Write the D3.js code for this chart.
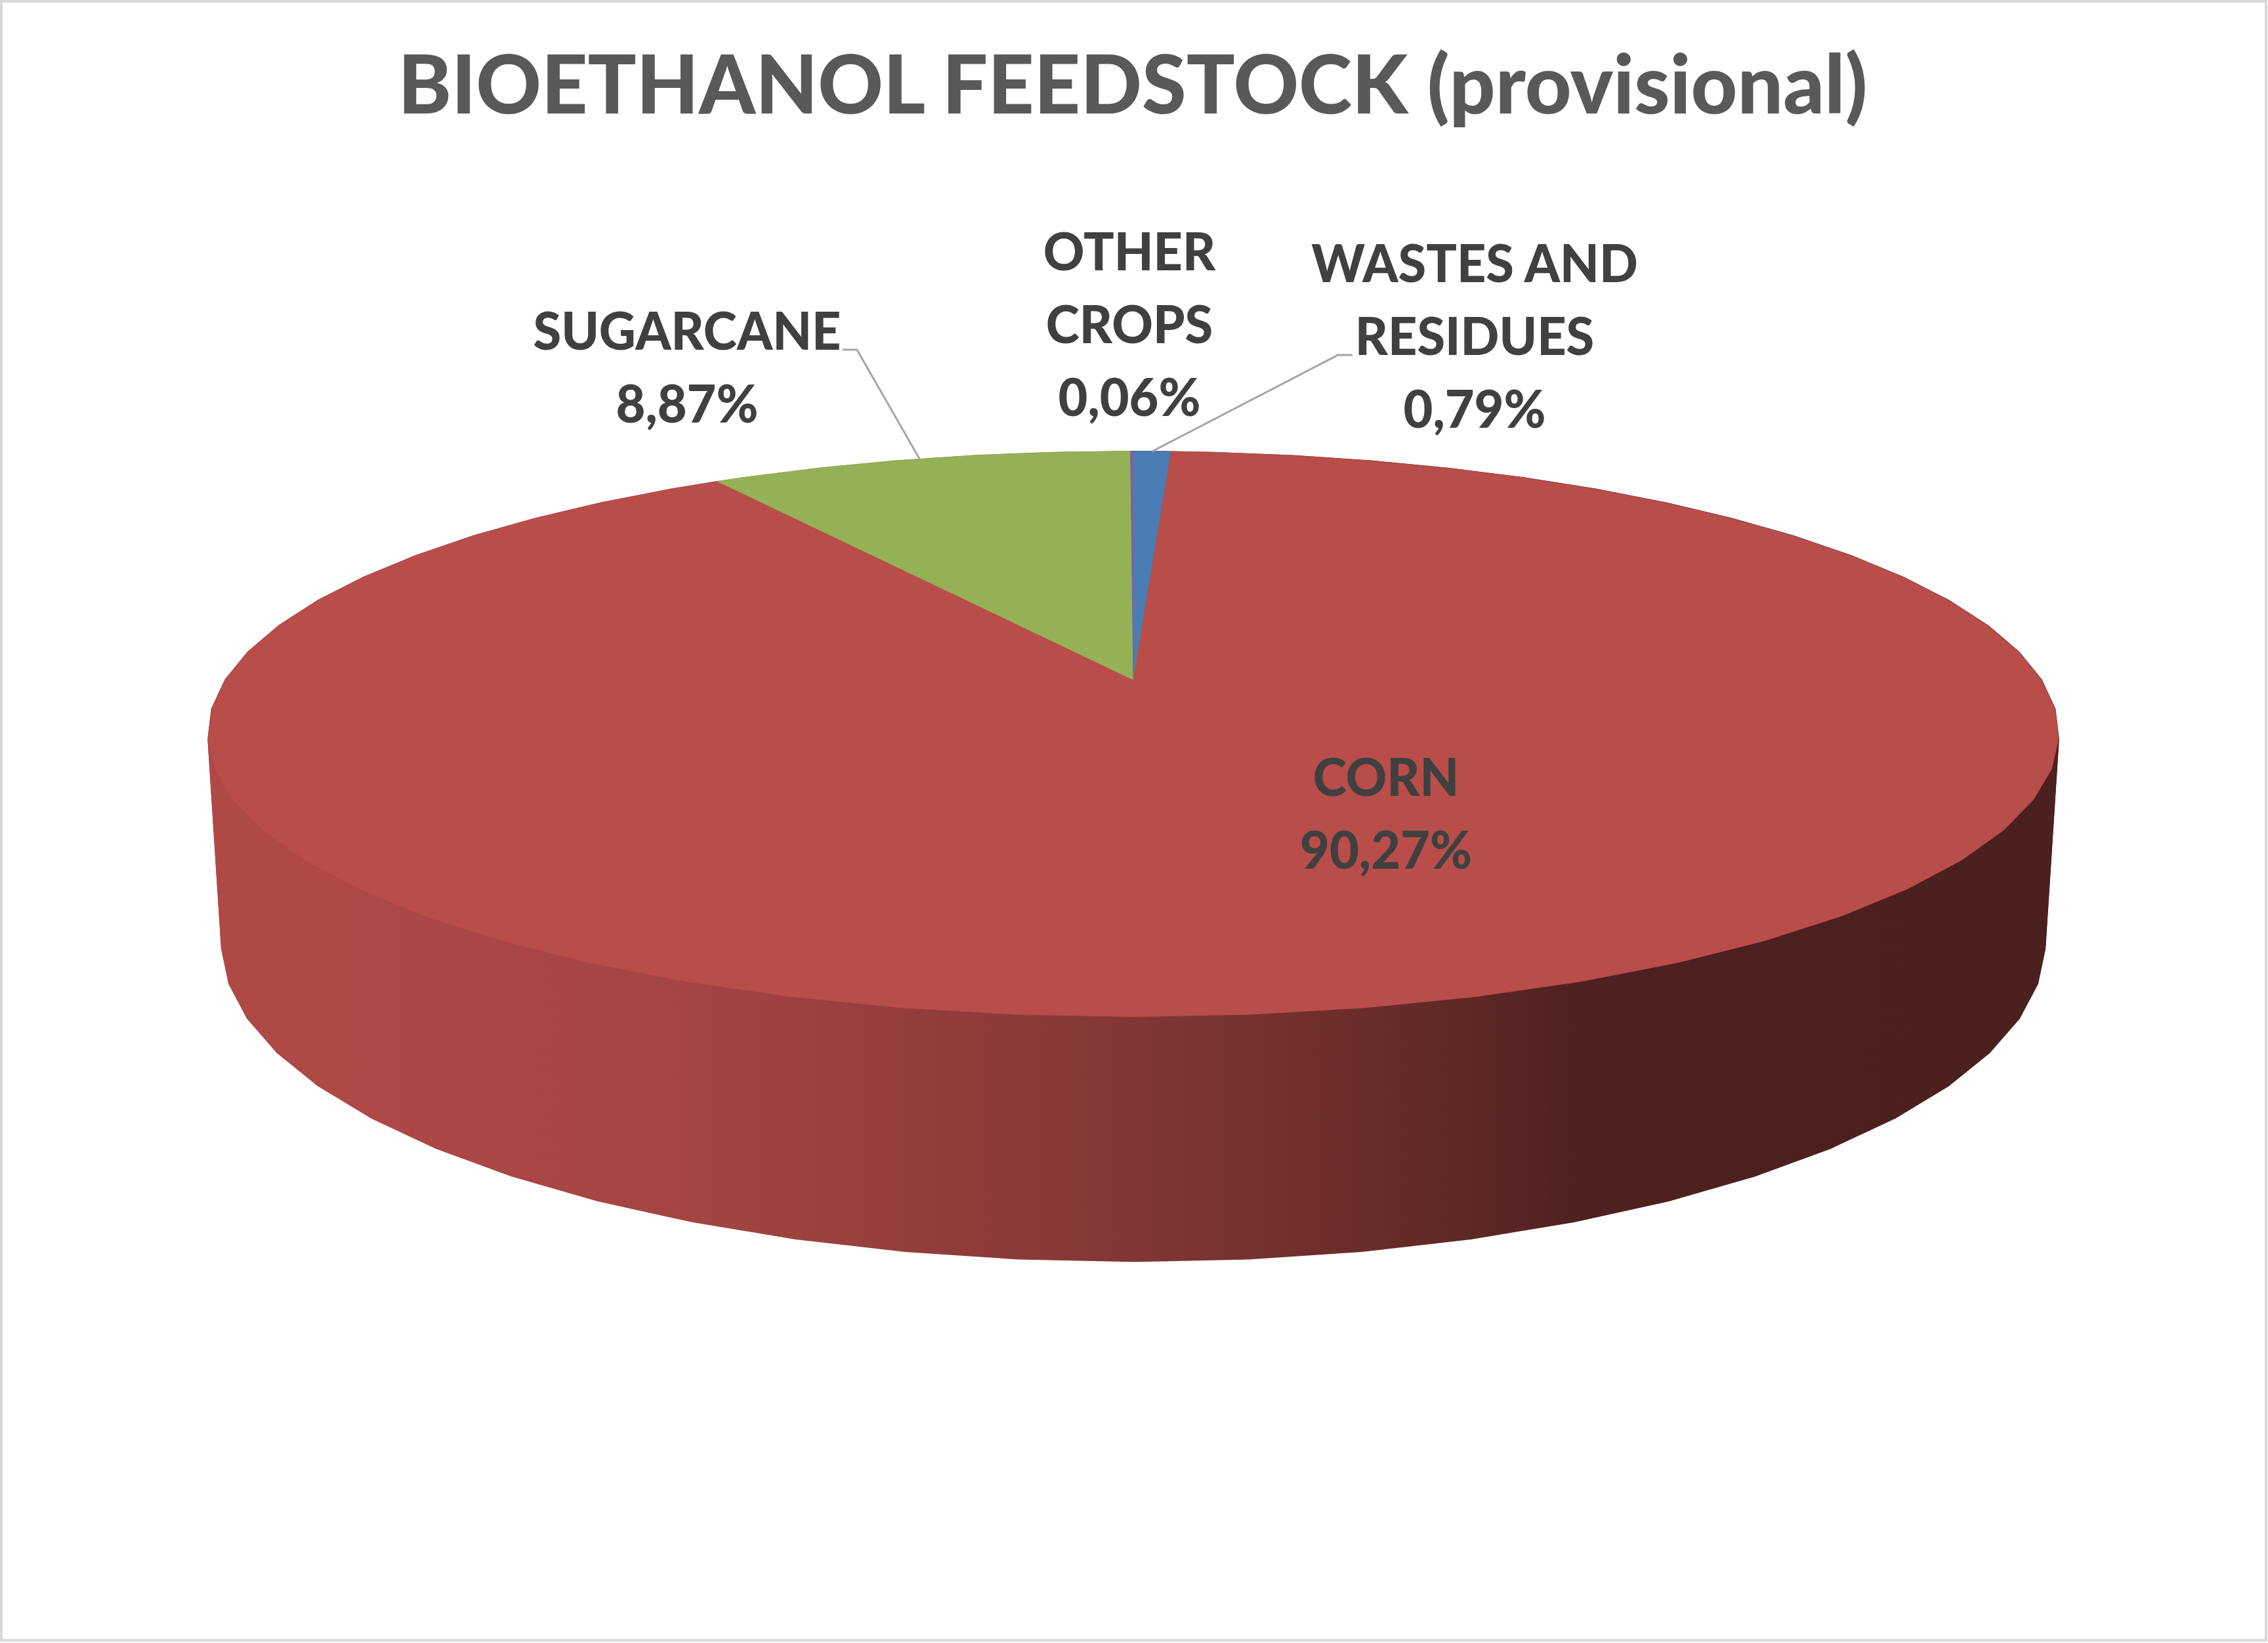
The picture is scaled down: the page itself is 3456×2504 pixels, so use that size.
<!DOCTYPE html>
<html>
<head>
<meta charset="utf-8">
<script src="https://cdn.jsdelivr.net/npm/d3@7"></script>
<style>
  html, body { margin: 0; padding: 0; background: #fff; }
  svg { display: block; }
</style>
</head>
<body>
<div id="chart"></div>
<script>
// data (percent of total, as printed on the chart)
var categories = ["WASTES AND RESIDUES", "CORN", "SUGARCANE", "OTHER CROPS"];
var shares = [0.79, 90.27, 8.87, 0.06];
var labelLines = [["WASTES AND", "RESIDUES"], ["CORN"], ["SUGARCANE"], ["OTHER", "CROPS"]];
var sliceColors = ["#4A7DB4", "#B84D4A", "#95B156", "#7E62A0"];
var title = "BIOETHANOL FEEDSTOCK (provisional)";

var width = 3456, height = 2504;

// 3d view of the disc
var view = { cx: 1727, cy: 1036, radius: 1384, dist: 4.973, elev: 17.45 * Math.PI / 180, depth: 0.238 };
var step = 6 * Math.PI / 180;

// label layout: centre x, first baseline, leader side line (-1 = none)
var labelLayout = [
  { x: 2247, y: 430, leaderLine: 1 },
  { x: 2112, y: 1213, leaderLine: -1 },
  { x: 1047, y: 533, leaderLine: 0 },
  { x: 1721, y: 412, leaderLine: -1 }
];
var labelSize = 80, lineGap = 111;

var locale = d3.formatLocale({ decimal: ",", thousands: ".", grouping: [3], currency: ["", ""] });
var pct = locale.format(".2%");

var svg = d3.select("#chart").append("svg")
  .attr("width", width)
  .attr("height", height);

svg.append("rect")
  .attr("x", 2).attr("y", 2)
  .attr("width", width - 5).attr("height", height - 6)
  .attr("fill", "#fff")
  .attr("stroke", "#D9D9D9")
  .attr("stroke-width", 4);

var r = d3.scaleLinear().domain([0, 1]).range([0, view.radius]);
var ca = Math.cos(view.elev), sa = Math.sin(view.elev);

function project(phi, rr, z) {
  var X = rr * Math.sin(phi), Y = rr * Math.cos(phi);
  var yv = z * ca + Y * sa;
  var dv = view.dist + Y * ca - z * sa;
  return [view.cx + r(view.dist * X / dv), view.cy - r(view.dist * yv / dv)];
}

var pie = d3.pie().sort(null).value(function(d){ return d; });
var arcs = pie(shares);

function rimAngles(a0, a1) {
  var list = [a0];
  var k = Math.floor(a0 / step) + 1;
  while (k * step < a1 - 1e-9) { list.push(k * step); k++; }
  list.push(a1);
  return list;
}

// side gradients
var defs = svg.append("defs");
var shade = [[0, 0.95], [0.24, 0.89], [0.49, 0.72], [0.67, 0.54], [0.76, 0.43], [1, 0.41]];
var leftX = project(-Math.PI / 2 + 0.19, 1, 0)[0], rightX = project(Math.PI / 2 - 0.19, 1, 0)[0];
sliceColors.forEach(function(c, i) {
  var g = defs.append("linearGradient")
    .attr("id", "side" + i)
    .attr("gradientUnits", "userSpaceOnUse")
    .attr("x1", leftX).attr("x2", rightX).attr("y1", 0).attr("y2", 0);
  var base = d3.rgb(c);
  shade.forEach(function(s) {
    g.append("stop").attr("offset", s[0])
      .attr("stop-color", d3.rgb(base.r * s[1], base.g * s[1], base.b * s[1]).formatHex());
  });
});

var line = d3.line();

// side walls, back to front
var walls = [];
arcs.forEach(function(a, i) {
  var angs = rimAngles(a.startAngle, a.endAngle);
  for (var j = 0; j < angs.length - 1; j++) {
    var m = (angs[j] + angs[j + 1]) / 2;
    walls.push({ i: i, a0: angs[j], a1: angs[j + 1], key: Math.cos(m) });
  }
});
walls.sort(function(p, q){ return q.key - p.key; });

svg.append("g").selectAll("path")
  .data(walls)
  .enter().append("path")
  .attr("d", function(w) {
    return line([project(w.a0, 1, 0), project(w.a1, 1, 0),
                 project(w.a1, 1, -view.depth), project(w.a0, 1, -view.depth)]) + "Z";
  })
  .attr("fill", function(w){ return "url(#side" + w.i + ")"; })
  .attr("stroke", function(w){ return "url(#side" + w.i + ")"; })
  .attr("stroke-width", 1.5)
  .attr("stroke-linejoin", "round");

// top faces
svg.append("g").selectAll("path")
  .data(arcs)
  .enter().append("path")
  .attr("d", function(a) {
    var pts = [[view.cx, view.cy]];
    rimAngles(a.startAngle, a.endAngle).forEach(function(t){ pts.push(project(t, 1, 0)); });
    return line(pts) + "Z";
  })
  .attr("fill", function(a, i){ return sliceColors[i]; })
  .attr("stroke", function(a, i){ return sliceColors[i]; })
  .attr("stroke-width", 0.8)
  .attr("stroke-linejoin", "round");

// title
var titleText = svg.append("text")
  .attr("x", 1726).attr("y", 173)
  .attr("text-anchor", "middle")
  .attr("font-family", "Lato, 'Open Sans', sans-serif")
  .attr("font-weight", 900)
  .attr("font-size", 123)
  .attr("fill", "#595959")
  .text(title);
titleText.attr("textLength", 2239).attr("lengthAdjust", "spacingAndGlyphs");

// labels
var labels = svg.append("g")
  .attr("font-family", "Lato, 'Open Sans', sans-serif")
  .attr("font-weight", 900)
  .attr("font-size", labelSize)
  .attr("fill", "#404040")
  .attr("text-anchor", "middle");

var probe = labels.append("text").text("SUGARCANE");
var squeeze = 469 / probe.node().getComputedTextLength();
probe.remove();

arcs.forEach(function(a, i) {
  var lay = labelLayout[i];
  var lines = labelLines[i].concat([pct(shares[i] / 100)]);
  var g = labels.append("g");
  var nodes = lines.map(function(t, k) {
    return g.append("text")
      .attr("x", lay.x)
      .attr("y", lay.y + k * lineGap)
      .text(t);
  });
  nodes.forEach(function(n) {
    var w = n.node().getComputedTextLength();
    n.attr("textLength", w * squeeze).attr("lengthAdjust", "spacingAndGlyphs");
  });

  if (lay.leaderLine >= 0) {
    var mid = (a.startAngle + a.endAngle) / 2;
    var end = project(mid, 1, 0);
    var n = nodes[lay.leaderLine];
    var half = n.node().getComputedTextLength() * squeeze / 2;
    var yb = lay.y + lay.leaderLine * lineGap;
    var dir = end[0] > lay.x ? 1 : -1;
    var x0 = lay.x + dir * (half + 10);
    svg.append("path")
      .attr("d", line([[x0, yb], [x0 + dir * 22, yb], end]))
      .attr("fill", "none")
      .attr("stroke", "#A6A6A6")
      .attr("stroke-width", 3);
  }
});
</script>
</body>
</html>
